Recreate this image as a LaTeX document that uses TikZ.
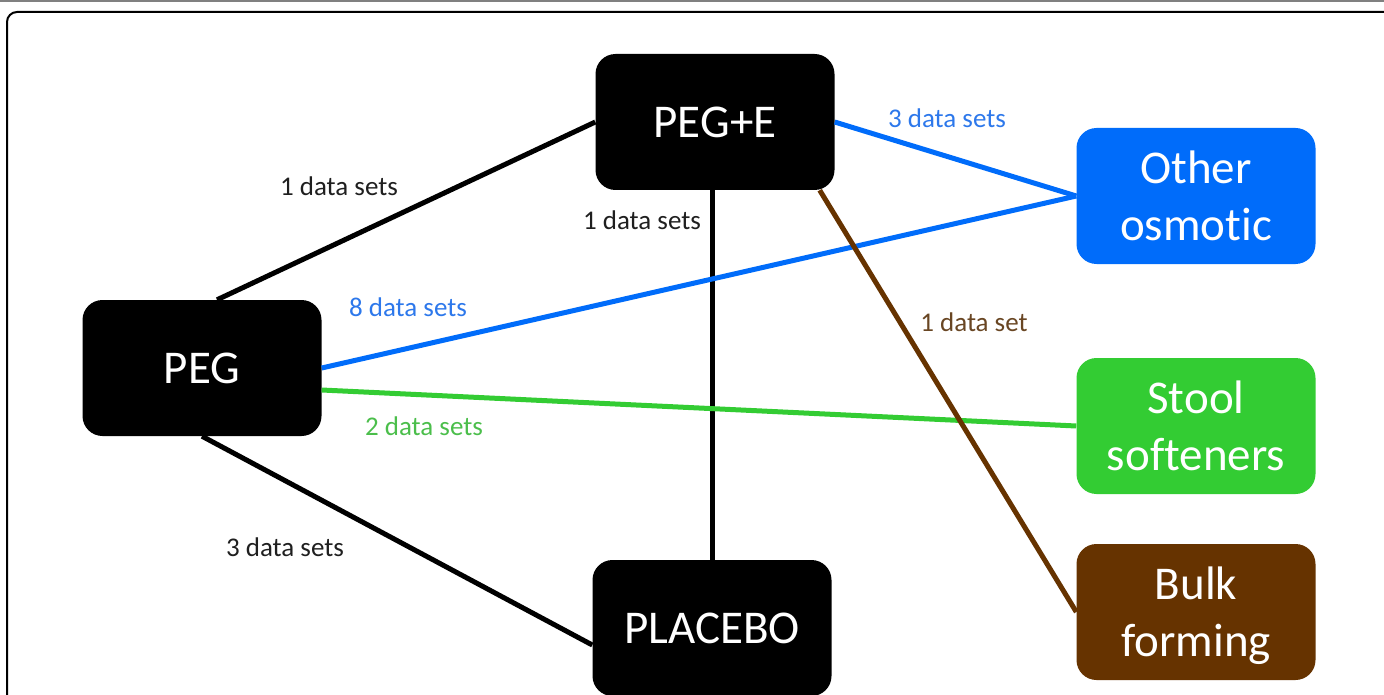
\documentclass[tikz,border=0pt]{standalone}
\usepackage{fontspec}
\setmainfont[Ligatures=NoCommon]{Carlito}
\usepackage{tikz}
\usetikzlibrary{positioning}

\definecolor{osmblue}{RGB}{0,108,250}
\definecolor{softgreen}{RGB}{51,204,51}
\definecolor{bulkbrown}{RGB}{102,51,0}
\definecolor{bluelab}{RGB}{45,120,235}
\definecolor{greenlab}{RGB}{75,190,75}
\definecolor{brownlab}{RGB}{105,70,35}

\begin{document}
\begin{tikzpicture}[
    x=1pt, y=-1pt,
    drug/.style={
      fill=black,
      rounded corners=20pt,
      text=white,
      align=center,
      minimum width=239pt,
      minimum height=136pt,
      text depth=0pt,
      inner sep=0pt,
      font=\fontsize{47}{57}\selectfont
    },
    osmbox/.style={drug, fill=osmblue},
    softbox/.style={drug, fill=softgreen},
    bulkbox/.style={drug, fill=bulkbrown},
    link/.style={line width=5pt, draw=black},
    count/.style={font=\fontsize{27}{32}\selectfont, text=black!88, inner sep=0pt}
  ]
    \useasboundingbox (0,0) rectangle (1384,695);
    % page frame
    \draw[gray, line width=1.5pt] (0,0.8) -- (1384,0.8);
    \draw[line width=2pt, rounded corners=10pt] (7,720) -- (7,12) -- (1420,12);

    \node[drug] (pege) at (715,122) {PEG+E};
    \node[drug] (peg) at (202,368) {PEG};
    \node[drug] (placebo) at (712,628) {PLACEBO};
    \node[osmbox] (osmotic) at (1196,196) {Other\\osmotic};
    \node[softbox] (stool) at (1196,426) {Stool\\softeners};
    \node[bulkbox] (bulk) at (1196,612) {Bulk\\forming};

    \draw[link] ([xshift=15pt]peg.north) -- (pege.west);
    \draw[link] (peg.south) -- ([yshift=-17pt]placebo.west);
    \draw[link] ([xshift=-3pt]pege.south) -- (placebo.north);
    \draw[link, draw=osmblue] (peg.east) -- (osmotic.west);
    \draw[link, draw=osmblue] (pege.east) -- (osmotic.west);
    \draw[link, draw=softgreen] ([yshift=-22pt]peg.east) -- (stool.west);
    \draw[link, draw=bulkbrown] ([xshift=-15pt]pege.south east) -- (bulk.west);

    \node[count] (n1) at (339,186) {1 data sets};
    \node[count] (n2) at (642,220) {1 data sets};
    \node[count] (n3) at (285,547) {3 data sets};
    \node[count, text=bluelab] (n4) at (408,307) {8 data sets};
    \node[count, text=greenlab] (n5) at (424,426) {2 data sets};
    \node[count, text=bluelab] (n6) at (947,118) {3 data sets};
    \node[count, text=brownlab] (n7) at (974,322) {1 data set};
  \end{tikzpicture}
\end{document}
